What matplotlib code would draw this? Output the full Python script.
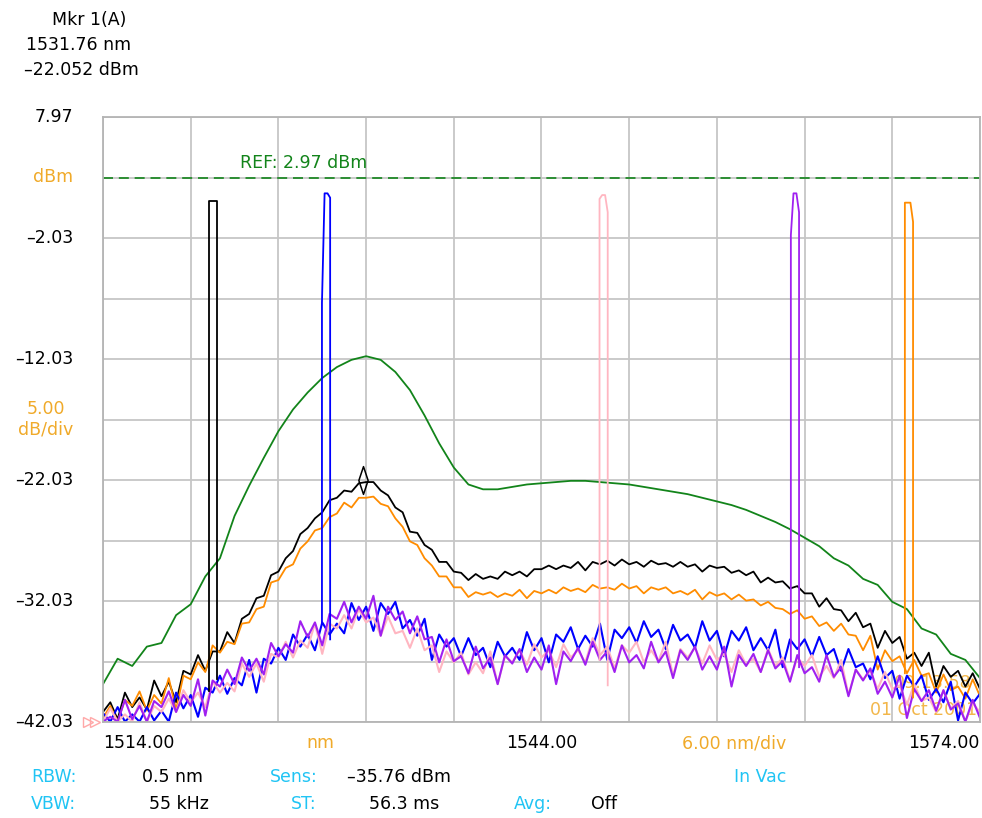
import numpy as np
import matplotlib.pyplot as plt
from matplotlib.path import Path

W, H = 982, 818

# sampling grids (nm)
wl_fine = np.arange(1514.0, 1574.01, 0.5)
wl_coarse = np.arange(1514.0, 1574.01, 1.0)

# ASE traces (dBm)
green = [-38.9, -36.8, -37.4, -35.8, -35.5, -33.2, -32.3, -30.0, -28.5, -25.0,
         -22.5, -20.2, -18.0, -16.2, -14.8, -13.6, -12.7, -12.1, -11.8, -12.1,
         -13.1, -14.6, -16.7, -19.0, -21.0, -22.4, -22.8, -22.8, -22.6, -22.4,
         -22.3, -22.2, -22.1, -22.1, -22.2, -22.3, -22.4, -22.6, -22.8, -23.0,
         -23.2, -23.5, -23.8, -24.1, -24.5, -25.0, -25.5, -26.1, -26.8, -27.5,
         -28.5, -29.1, -30.2, -30.7, -32.1, -32.7, -34.3, -34.8, -36.4, -36.9,
         -38.4]

black = [-41.2, -40.4, -41.8, -39.6, -40.8, -40.0, -41.0, -38.6, -39.9, -38.7,
         -40.4, -37.8, -38.1, -36.5, -37.8, -36.2, -36.2, -34.6, -35.5, -33.5,
         -33.1, -31.8, -31.6, -29.9, -29.6, -28.5, -27.9, -26.5, -26.0, -25.2,
         -24.7, -23.7, -23.5, -22.9, -23.0, -22.3, -22.2, -22.2, -22.9, -23.3,
         -24.3, -24.7, -26.3, -26.4, -27.4, -27.8, -28.8, -28.8, -29.6, -29.7,
         -30.3, -29.8, -30.2, -30.0, -30.2, -29.6, -29.9, -29.6, -30.0, -29.4,
         -29.4, -29.1, -29.4, -29.1, -29.3, -28.8, -29.5, -28.8, -29.0, -28.7,
         -29.1, -28.6, -29.0, -28.8, -29.2, -28.7, -29.0, -28.9, -29.2, -28.8,
         -29.2, -29.0, -29.6, -29.1, -29.3, -29.2, -29.7, -29.5, -29.9, -29.6,
         -30.5, -30.1, -30.5, -30.4, -31.0, -30.8, -31.4, -31.4, -32.5, -31.8,
         -32.7, -32.8, -33.7, -33.0, -34.2, -33.9, -35.9, -34.5, -35.5, -35.0,
         -36.8, -36.3, -37.4, -36.3, -39.1, -37.4, -38.3, -37.8, -39.1, -38.0,
         -39.3]

orange = [-41.7, -40.7, -42.0, -40.2, -40.7, -39.5, -41.1, -39.8, -40.5, -38.4,
          -41.0, -38.2, -38.5, -37.1, -37.9, -35.7, -36.3, -35.4, -35.6, -33.9,
          -33.8, -32.7, -32.5, -30.5, -30.3, -29.3, -29.0, -27.7, -27.1, -26.2,
          -26.0, -25.1, -24.8, -23.9, -24.3, -23.5, -23.5, -23.4, -24.0, -24.2,
          -25.2, -25.9, -27.1, -27.4, -28.5, -29.1, -30.0, -30.0, -30.9, -30.9,
          -31.7, -31.3, -31.5, -31.3, -31.7, -31.4, -31.6, -31.1, -31.8, -31.2,
          -31.4, -31.1, -31.4, -30.9, -31.2, -31.0, -31.3, -30.7, -31.0, -30.9,
          -31.1, -30.6, -31.0, -30.8, -31.4, -30.9, -31.1, -30.9, -31.4, -31.2,
          -31.5, -31.1, -31.9, -31.3, -31.6, -31.4, -31.9, -31.5, -32.0, -31.9,
          -32.4, -32.1, -32.6, -32.7, -33.1, -32.8, -33.5, -33.3, -34.1, -33.8,
          -34.5, -33.9, -34.8, -34.9, -36.1, -34.9, -37.7, -36.1, -37.0, -36.6,
          -38.0, -36.9, -38.2, -38.0, -39.6, -38.1, -39.4, -39.1, -40.1, -38.5,
          -39.9]

blue = [-41.3, -42.0, -40.8, -42.0, -41.4, -42.0, -40.8, -41.9, -41.1, -42.0,
        -39.6, -40.9, -39.8, -41.6, -39.2, -39.6, -38.2, -39.7, -38.4, -39.0,
        -36.9, -39.6, -36.8, -37.2, -35.9, -36.9, -34.8, -35.8, -34.8, -36.1,
        -33.8, -34.8, -33.9, -34.7, -32.2, -33.6, -32.5, -34.5, -32.2, -33.1,
        -32.1, -34.3, -33.6, -34.9, -33.5, -36.9, -34.8, -35.8, -35.1, -36.6,
        -35.1, -36.5, -35.9, -37.5, -35.4, -36.6, -35.9, -36.9, -34.6, -36.1,
        -35.1, -37.1, -34.8, -35.4, -34.2, -36.0, -34.9, -35.8, -33.9, -36.9,
        -34.4, -35.1, -34.2, -35.5, -33.7, -35.0, -34.4, -36.0, -34.0, -35.3,
        -34.8, -35.9, -33.7, -35.3, -34.5, -36.6, -34.5, -35.3, -34.2, -36.1,
        -35.1, -36.1, -34.4, -37.5, -35.2, -36.0, -35.2, -36.6, -35.0, -36.5,
        -36.0, -37.8, -36.0, -37.5, -37.2, -38.5, -36.6, -38.4, -37.8, -40.1,
        -38.2, -39.1, -38.2, -40.2, -39.3, -40.4, -38.7, -41.9, -39.6, -40.5,
        -39.7]

pink = [-42.0, -40.9, -42.0, -41.4, -42.0, -40.4, -42.0, -40.7, -41.2, -40.1,
        -41.2, -39.4, -40.4, -39.6, -40.8, -38.7, -39.6, -38.8, -39.5, -37.2,
        -38.3, -37.2, -38.7, -36.4, -36.7, -35.4, -36.7, -35.3, -35.9, -33.9,
        -36.4, -33.9, -34.3, -33.2, -34.3, -32.7, -33.8, -33.4, -34.9, -33.3,
        -34.7, -34.5, -35.9, -34.3, -36.1, -35.7, -37.9, -36.2, -37.1, -36.3,
        -38.1, -37.1, -38.0, -36.2, -38.9, -36.6, -37.1, -36.1, -37.3, -35.6,
        -36.7, -36.1, -37.5, -35.6, -36.7, -36.1, -37.1, -35.1, -36.5, -35.8,
        -37.6, -35.7, -36.3, -35.4, -37.1, -36.1, -37.0, -35.4, -38.2, -36.0,
        -36.7, -35.9, -37.2, -35.7, -36.9, -36.4, -37.9, -36.1, -37.3, -36.8,
        -37.9, -36.0, -37.4, -36.7, -38.6, -36.7, -37.4, -36.5, -38.3, -37.4,
        -38.4, -36.9, -39.8, -37.7, -38.5, -37.8, -39.3, -37.9, -39.3, -39.0,
        -40.6, -38.9, -40.3, -40.0, -41.2, -39.4, -40.9, -40.3, -42.0, -40.5,
        -41.2]

purple = [-42.0, -41.6, -42.0, -40.2, -41.8, -40.7, -42.0, -40.3, -40.8, -39.5,
          -41.2, -39.8, -40.7, -38.5, -41.5, -38.6, -39.1, -37.7, -38.9, -36.7,
          -37.8, -36.8, -38.1, -35.5, -36.6, -35.6, -36.3, -33.7, -35.0, -33.8,
          -35.7, -33.1, -33.5, -32.1, -33.8, -32.5, -33.5, -31.6, -34.9, -32.5,
          -33.6, -32.9, -34.7, -33.3, -35.2, -35.0, -37.1, -35.2, -37.0, -36.6,
          -38.0, -35.8, -37.6, -36.7, -38.9, -36.5, -37.2, -36.0, -37.9, -36.7,
          -37.7, -35.7, -38.9, -36.2, -37.0, -35.9, -37.3, -35.4, -36.9, -36.2,
          -37.9, -35.7, -37.1, -36.5, -37.6, -35.4, -37.1, -36.2, -38.4, -36.1,
          -36.9, -35.8, -37.7, -36.6, -37.7, -35.8, -39.1, -36.5, -37.4, -36.4,
          -37.9, -36.1, -37.6, -37.0, -38.7, -36.5, -38.0, -37.5, -38.7, -36.5,
          -38.3, -37.5, -39.9, -37.7, -38.6, -37.6, -39.7, -38.7, -40.0, -38.2,
          -41.7, -39.3, -40.3, -39.4, -41.1, -39.4, -41.0, -40.5, -42.0, -40.2,
          -41.7]

# laser lines: one per coloured trace (black, blue, pink, purple, orange)
laser_nm = [1521.52, 1529.26, 1548.25, 1561.34, 1569.14]
laser_peak = [1.05, 1.66, 1.52, 1.66, 0.89]
laser_step_left = [1.05, -7.4, 1.2, -1.8, 0.89]
laser_step_right = [1.05, 1.3, 0.1, 0.1, -0.7]
laser_base_left = [-39.5, -33.9, -36.9, -37.0, -38.0]
laser_base_right = [-38.5, -35.2, -39.0, -37.5, -40.0]

ref_level = 2.97
marker_nm, marker_dbm = 1531.76, -22.052
y_top, y_div = 7.97, 5.0
x_start, x_div = 1514.0, 6.0

c_green = '#12841a'
c_orange = '#ff8c00'
c_blue = '#0000ff'
c_pink = '#ffb6c1'
c_purple = '#a020f0'
c_lbl_or = '#f0aa2a'
c_cyan = '#20c4f4'

fig = plt.figure(figsize=(W / 100, H / 100), dpi=100)
ax = fig.add_axes([103 / W, 96 / H, 877 / W, 605 / H])
ax.set_xlim(x_start, x_start + 10 * x_div)
ax.set_ylim(y_top - 10 * y_div, y_top)
ax.set_xticks(x_start + x_div * np.arange(11))
ax.set_yticks(y_top - y_div * np.arange(11))
ax.grid(True, color='#c6c6c6', lw=1.3)
ax.set_axisbelow(True)
ax.tick_params(length=0, labelbottom=False, labelleft=False)
for s in ax.spines.values():
    s.set_color('#b4b4b4')
    s.set_linewidth(1.3)

lw = 1.3
ax.plot(wl_coarse, green, color=c_green, lw=lw)
ax.plot(wl_fine, black, color='black', lw=lw)
ax.plot(wl_fine, orange, color=c_orange, lw=lw)
ax.plot(wl_fine, blue, color=c_blue, lw=1.5)
ax.plot(wl_fine, pink, color=c_pink, lw=1.5)
ax.plot(wl_fine, purple, color=c_purple, lw=1.5)

laser_colors = ['black', c_blue, c_pink, c_purple, c_orange]
hw = 0.28
for c, pk, sl, sr, bl, br, col in zip(laser_nm, laser_peak, laser_step_left,
                                      laser_step_right, laser_base_left,
                                      laser_base_right, laser_colors):
    ax.plot([c - hw, c - hw, c - 0.1, c + 0.1, c + hw, c + hw],
            [bl, sl, pk, pk, sr, br], color=col, lw=lw)

# reference level
ax.axhline(ref_level, color=c_green, lw=1.2, ls=(0, (6, 3.5)))
ax.text(1523.35, ref_level + 1.2, 'REF: 2.97 dBm', color=c_green,
        fontsize=12.5, va='center', ha='left')

# marker 1
diamond = Path([(0, -3), (1, 0), (0, 3), (-1, 0), (0, -3)],
               [Path.MOVETO, Path.LINETO, Path.LINETO, Path.LINETO, Path.CLOSEPOLY])
ax.plot([marker_nm], [marker_dbm], marker=diamond, ms=20, mfc='none',
        mec='black', mew=1.1, zorder=5)

# timestamp
ax.text(1573.4, -38.8, '09:13:58', color=c_lbl_or, fontsize=12.5,
        ha='right', va='center', alpha=0.85, zorder=1)
ax.text(1573.8, -41.0, '01 Oct 2001', color=c_lbl_or, fontsize=12.5,
        ha='right', va='center', alpha=0.85, zorder=1)

# pink bottom-left pointer
ax.plot([1512.95, 1513.45], [y_top - 10 * y_div] * 2, ls='none', marker='>',
        ms=7, mfc='none', mec='#ffa8a8', mew=1.0, clip_on=False)

# y labels
yt = ax.get_yaxis_transform()
ylabels = ['7.97', 'dBm', '–2.03', '', '–12.03', '', '–22.03', '', '–32.03', '', '–42.03']
for i, lab in enumerate(ylabels):
    ax.text(-0.034, y_top - i * y_div, lab, transform=yt, ha='right', va='center',
            fontsize=12.5, color=c_lbl_or if lab == 'dBm' else 'black')
ax.text(-0.065, y_top - 5 * y_div, '5.00\ndB/div', transform=yt, ha='center',
        va='center', fontsize=12.5, color=c_lbl_or, linespacing=1.15)

# x labels
xt = ax.get_xaxis_transform()
ax.text(1514.0, -0.035, '1514.00', transform=xt, ha='left', va='center', fontsize=12.5)
ax.text(1528.85, -0.035, 'nm', transform=xt, ha='center', va='center',
        fontsize=12.5, color=c_lbl_or)
ax.text(1544.0, -0.035, '1544.00', transform=xt, ha='center', va='center', fontsize=12.5)
ax.text(1557.2, -0.035, '6.00 nm/div', transform=xt, ha='center', va='center',
        fontsize=12.5, color=c_lbl_or)
ax.text(1574.0, -0.035, '1574.00', transform=xt, ha='right', va='center', fontsize=12.5)


def ftxt(x, y, s, color='black'):
    fig.text(x / W, 1 - y / H, s, color=color, fontsize=12.5, ha='left', va='center')


# marker readout
ftxt(52, 20, 'Mkr 1(A)')
ftxt(26, 45, '1531.76 nm')
ftxt(24, 70, '–22.052 dBm')

# settings rows
ftxt(31, 777, 'RBW:', c_cyan)
ftxt(142, 777, '0.5 nm')
ftxt(270, 777, 'Sens:', c_cyan)
ftxt(347, 777, '–35.76 dBm')
ftxt(734, 777, 'In Vac', c_cyan)
ftxt(31, 804, 'VBW:', c_cyan)
ftxt(149, 804, '55 kHz')
ftxt(291, 804, 'ST:', c_cyan)
ftxt(369, 804, '56.3 ms')
ftxt(514, 804, 'Avg:', c_cyan)
ftxt(591, 804, 'Off')

fig.savefig('out.png', dpi=100)
